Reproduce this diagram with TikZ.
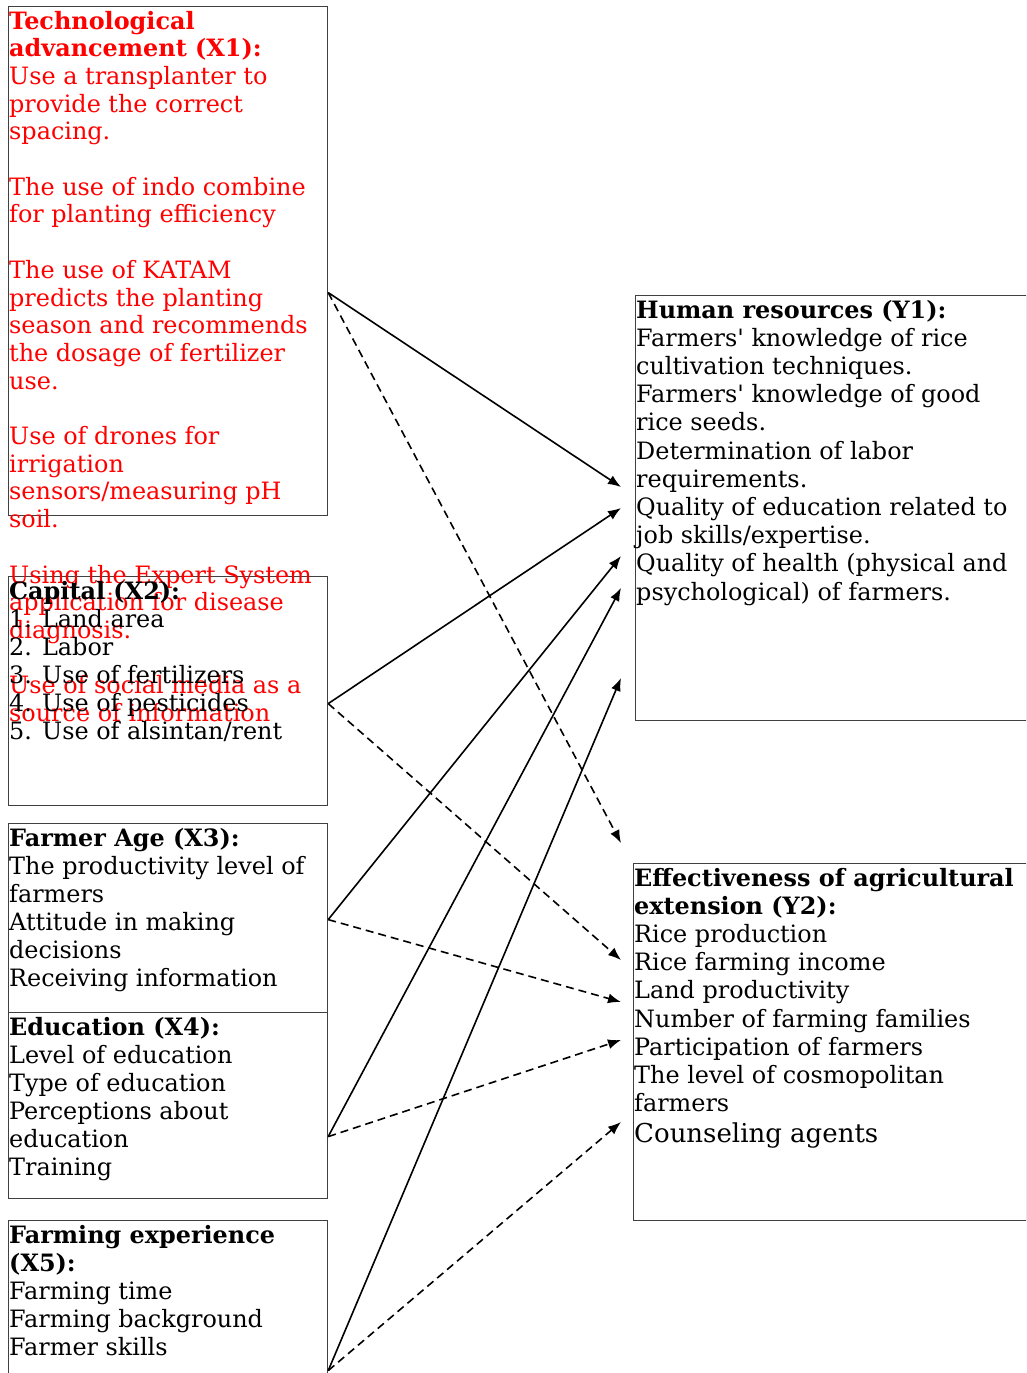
\documentclass[tikz,border=0pt]{standalone}
\usepackage{fontspec}
\setmainfont{DejaVu Serif}
\usetikzlibrary{arrows.meta, positioning}
\tikzset{
  box/.style={draw=black!75, line width=1.2pt, anchor=north west, inner sep=0pt},
  txt/.style={anchor=base west, inner sep=0pt, align=left, font=\fontsize{23.9}{28}\selectfont},
  redtxt/.style={txt, text=red, font=\fontsize{23.9}{27.7}\selectfont},
  solidarr/.style={-{Latex[length=13pt,width=10pt]}, line width=1.6pt},
  dasharr/.style={solidarr, dash pattern=on 8pt off 5pt}
}
\begin{document}
\begin{tikzpicture}[x=1pt, y=-1pt]
  \useasboundingbox (0,0) rectangle (1026,1373);
  \clip (0,0) rectangle (1026,1373);

  % boxes
  \node[box, minimum width=319pt, minimum height=509pt] (tech) at (8,6) {};
  \node[box, minimum width=319pt, minimum height=229pt] (capital) at (8,576) {};
  \node[box, minimum width=319pt, minimum height=189pt] (age) at (8,823) {};
  \node[box, minimum width=319pt, minimum height=186pt] (edu) at (8,1012) {};
  \node[box, minimum width=319pt, minimum height=200pt] (exper) at (8,1220) {};
  \node[box, minimum width=391pt, minimum height=425pt] (hr) at (635,295) {};
  \node[box, minimum width=393pt, minimum height=357pt] (ext) at (633,863) {};

  % texts (anchored at the baseline of their last line)
  \node[redtxt] (techtxt) at (9,721.5) {\textbf{Technological}\\\textbf{advancement (X1):}\\
    Use a transplanter to\\provide the correct\\spacing.\\[27.7pt]
    The use of indo combine\\for planting efficiency\\[27.7pt]
    The use of KATAM\\predicts the planting\\season and recommends\\the dosage of fertilizer\\use.\\[27.7pt]
    Use of drones for\\irrigation\\sensors/measuring pH\\soil.\\[27.7pt]
    Using the Expert System\\application for disease\\diagnosis.\\[27.7pt]
    Use of social media as a\\source of information};
  \node[txt] (capitaltxt) at (9,739) {\textbf{Capital (X2):}\\1. Land area\\2. Labor\\
    3. Use of fertilizers\\4. Use of pesticides\\5. Use of alsintan/rent};
  \node[txt] (agetxt) at (9,986) {\textbf{Farmer Age (X3):}\\The productivity level of\\farmers\\
    Attitude in making\\decisions\\Receiving information};
  \node[txt] (edutxt) at (9,1175) {\textbf{Education (X4):}\\Level of education\\Type of education\\
    Perceptions about\\education\\Training};
  \node[txt] (expertxt) at (9,1355) {\textbf{Farming experience}\\\textbf{(X5):}\\Farming time\\
    Farming background\\Farmer skills};
  \node[txt, font=\fontsize{23.9}{28.2}\selectfont] (hrtxt) at (636,600) {\textbf{Human resources (Y1):}\\
    Farmers\textquotesingle{} knowledge of rice\\cultivation techniques.\\
    Farmers\textquotesingle{} knowledge of good\\rice seeds.\\
    Determination of labor\\requirements.\\
    Quality of education related to\\job skills/expertise.\\
    Quality of health (physical and\\psychological) of farmers.};
  \node[txt, font=\fontsize{23.9}{28.1}\selectfont] (exttxt) at (634,1142) {\textbf{Effectiveness of agricultural}\\\textbf{extension (Y2):}\\
    Rice production\\Rice farming income\\Land productivity\\Number of farming families\\
    Participation of farmers\\The level of cosmopolitan\\farmers\\[2.6pt]
    {\fontsize{26}{28}\selectfont Counseling agents}};

  % arrow ends
  \coordinate (hr1) at (621,487);
  \coordinate (hr2) at (621,508);
  \coordinate (hr3) at (621,556);
  \coordinate (hr4) at (621,588);
  \coordinate (hr5) at (621,678);
  \coordinate (ext1) at (621,843);
  \coordinate (ext2) at (621,960);
  \coordinate (ext3) at (621,1002);
  \coordinate (ext4) at (621,1040);
  \coordinate (ext5) at (621,1122);

  \draw[solidarr] ([yshift=-31.5pt]tech.east) -- (hr1);
  \draw[dasharr] ([yshift=-31.5pt]tech.east) -- (ext1);
  \draw[solidarr] ([yshift=-12.5pt]capital.east) -- (hr2);
  \draw[dasharr] ([yshift=-12.5pt]capital.east) -- (ext2);
  \draw[solidarr] ([yshift=-1.5pt]age.east) -- (hr3);
  \draw[dasharr] ([yshift=-1.5pt]age.east) -- (ext3);
  \draw[solidarr] ([yshift=-31pt]edu.east) -- (hr4);
  \draw[dasharr] ([yshift=-31pt]edu.east) -- (ext4);
  \draw[solidarr] ([yshift=-50pt]exper.east) -- (hr5);
  \draw[dasharr] ([yshift=-50pt]exper.east) -- (ext5);
\end{tikzpicture}
\end{document}
